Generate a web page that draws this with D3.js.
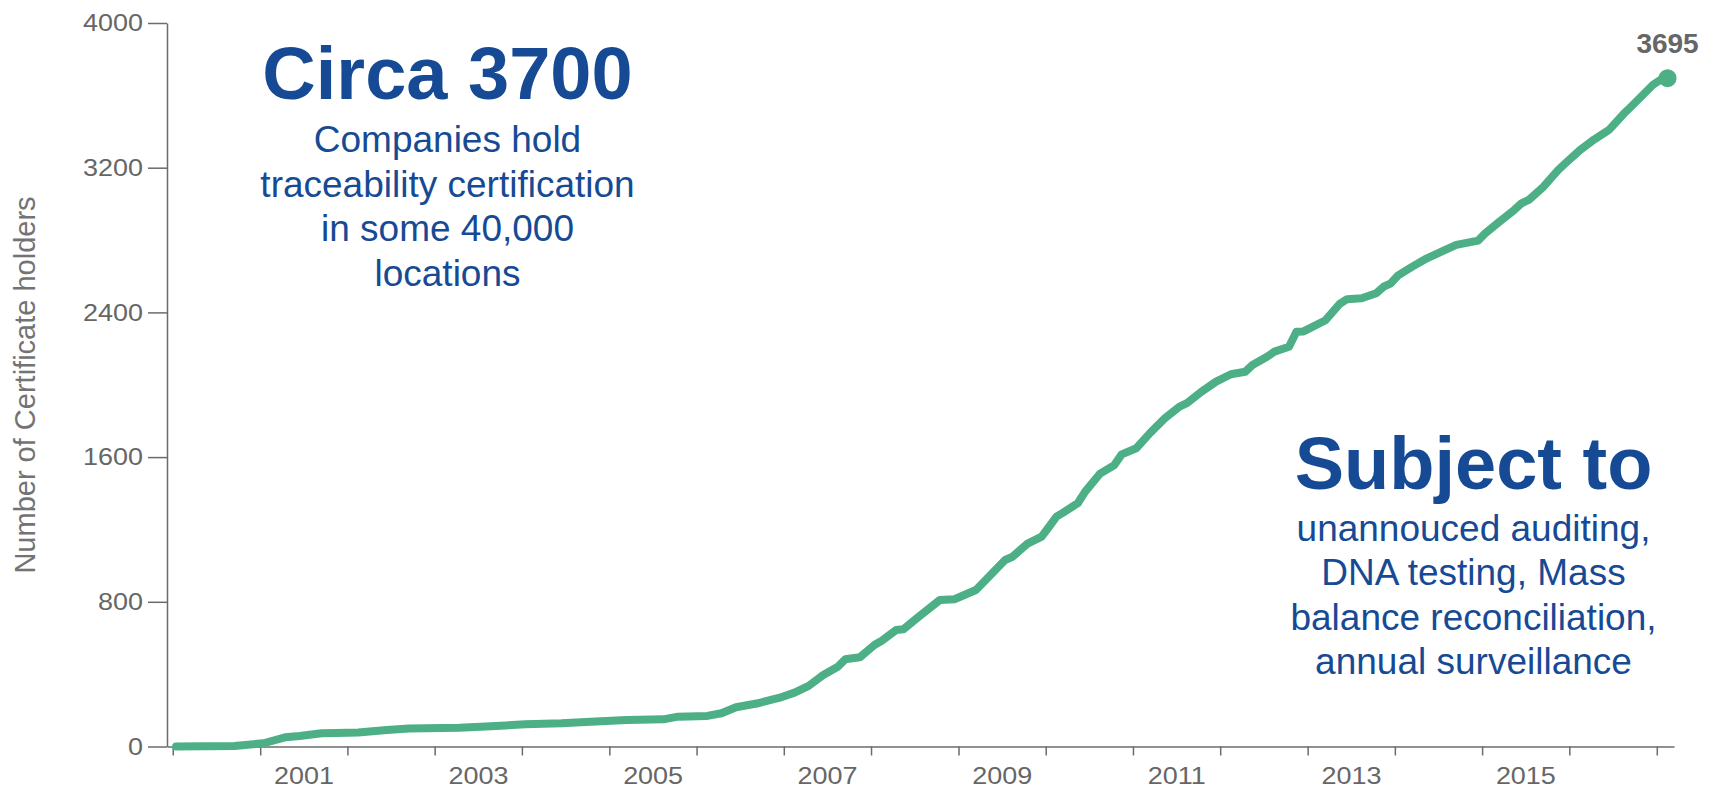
<!DOCTYPE html>
<html>
<head>
<meta charset="utf-8">
<script src="https://d3js.org/d3.v7.min.js"></script>
<style>
    body { margin: 0; background: #fff; }
    svg { display: block; font-family: "Liberation Sans", Arial, sans-serif; }
    .axis path, .axis line { stroke: #6b6b6b; stroke-width: 1.5; }
    .axis text { fill: #666; font-size: 24.5px; font-family: "Liberation Sans", Arial, sans-serif; }
    .note { fill: #174a94; text-anchor: middle; }
</style>
</head>
<body>
<div id="chart"></div>
<script>
// --------- DATA (month of each reading) ---------

const months = [
    "2000-01", "2000-09", "2001-01", "2001-04", "2001-06", "2001-09", "2001-11",
    "2002-02", "2002-06", "2002-09", "2003-04", "2003-09", "2004-01", "2004-06",
    "2004-10", "2005-03", "2005-08", "2005-10", "2006-02", "2006-04", "2006-06",
    "2006-09", "2006-12", "2007-02", "2007-04", "2007-06", "2007-08", "2007-09",
    "2007-11", "2008-01", "2008-02", "2008-04", "2008-05", "2008-07", "2008-10",
    "2008-12", "2009-03", "2009-05", "2009-07", "2009-08", "2009-10", "2009-12",
    "2010-01", "2010-02", "2010-03", "2010-05", "2010-06", "2010-08", "2010-10",
    "2010-11", "2011-01", "2011-03", "2011-05", "2011-07", "2011-08", "2011-10",
    "2011-12", "2012-02", "2012-04", "2012-05", "2012-07", "2012-08", "2012-10",
    "2012-11", "2012-12", "2013-03", "2013-05", "2013-06", "2013-08", "2013-10",
    "2013-11", "2013-12", "2014-01", "2014-03", "2014-05", "2014-07", "2014-09",
    "2014-12", "2015-01", "2015-03", "2015-05", "2015-06", "2015-07", "2015-09",
    "2015-11", "2015-12", "2016-02", "2016-04", "2016-06", "2016-08", "2016-09",
    "2016-12", "2017-01", "2017-02"
];

const holders = [
    0, 3, 18, 51, 58, 73, 75,
    78, 91, 100, 104, 113, 123, 128,
    137, 147, 150, 165, 169, 184, 217,
    239, 270, 298, 335, 395, 441, 482,
    493, 561, 585, 644, 648, 714, 810,
    814, 865, 948, 1031, 1049, 1120, 1160,
    1215, 1271, 1293, 1345, 1409, 1507, 1556,
    1615, 1649, 1735, 1815, 1879, 1898, 1962,
    2017, 2058, 2072, 2109, 2155, 2183, 2210,
    2293, 2295, 2355, 2447, 2473, 2478, 2506,
    2542, 2561, 2605, 2653, 2699, 2736, 2773,
    2797, 2838, 2902, 2966, 3003, 3022, 3095,
    3187, 3224, 3298, 3357, 3409, 3497, 3537,
    3657, 3685, 3695
];

const yTicks = [0, 800, 1600, 2400, 3200, 4000];
const yearLabels = ["2001", "2003", "2005", "2007", "2009", "2011", "2013", "2015"];
const yTitle = "Number of Certificate holders";

const leftHead = "Circa 3700";
const leftLines = ["Companies hold", "traceability certification", "in some 40,000", "locations"];
const rightHead = "Subject to";
const rightLines = ["unannouced auditing,", "DNA testing, Mass", "balance reconciliation,", "annual surveillance"];

// --------- CHART ---------

let margin = {top: 23, right: 39, bottom: 43.5, left: 167},
    width = 1713 - margin.left - margin.right,
    height = 790 - margin.top - margin.bottom;

let parseMonth = d3.timeParse("%Y-%m");
let data = months.map((m, i) => ({date: d3.timeDay.offset(parseMonth(m), 14), value: holders[i]}));

let svg = d3.select("#chart")
    .append("svg")
    .attr("width", width + margin.left + margin.right)
    .attr("height", height + margin.top + margin.bottom);

let graph = svg.append("g")
    .attr("transform", "translate(" + margin.left + "," + margin.top + ")");

let xScale = d3.scaleTime()
    .domain([new Date(1999, 11, 8), new Date(2017, 2, 14)])
    .range([0, width]);

let yScale = d3.scaleLinear()
    .domain([0, 4000])
    .range([height, 0]);

const stretch = 1.1;

// x axis: a tick at each new year, labels in the middle of odd years
graph.append("g")
    .attr("class", "axis")
    .attr("transform", "translate(0," + height + ")")
    .call(d3.axisBottom(xScale).ticks(d3.timeYear.every(1)).tickFormat("").tickSize(9).tickSizeOuter(0));

graph.append("g")
    .attr("class", "axis")
    .attr("transform", "translate(0," + height + ")")
    .call(d3.axisBottom(xScale)
        .tickValues(yearLabels.map(y => new Date(+y, 6, 1)))
        .tickFormat(d3.timeFormat("%Y"))
        .tickSize(0)
        .tickPadding(20))
    .call(g => g.select(".domain").remove())
    .selectAll("text")
    .attr("transform", "scale(" + stretch + ",1)");

graph.append("g")
    .attr("class", "axis")
    .call(d3.axisLeft(yScale).tickValues(yTicks).tickFormat(d => d).tickSize(19).tickSizeOuter(0).tickPadding(5))
    .selectAll("text")
    .attr("x", -24 / stretch)
    .attr("transform", "scale(" + stretch + ",1)");

svg.append("text")
    .attr("transform", "rotate(-90)")
    .attr("x", -385)
    .attr("y", 35)
    .attr("text-anchor", "middle")
    .attr("fill", "#737373")
    .style("font-size", "29px")
    .text(yTitle);

// line and end point
let line = d3.line()
    .x(d => xScale(d.date))
    .y(d => yScale(d.value));

graph.append("path")
    .attr("fill", "none")
    .attr("stroke", "#4caf86")
    .attr("stroke-width", 8)
    .attr("stroke-linejoin", "round")
    .attr("stroke-linecap", "round")
    .attr("d", line(data));

let last = data[data.length - 1];
graph.append("circle")
    .attr("cx", xScale(last.date))
    .attr("cy", yScale(last.value))
    .attr("r", 9)
    .attr("fill", "#4caf86");

graph.append("text")
    .attr("x", xScale(last.date))
    .attr("y", yScale(last.value) - 25)
    .attr("text-anchor", "middle")
    .attr("fill", "#666")
    .style("font-size", "28px")
    .style("font-weight", "bold")
    .text(last.value);

// annotations
function note(cx, headY, head, lines, lineY) {
    svg.append("text")
        .attr("class", "note")
        .attr("x", cx)
        .attr("y", headY)
        .style("font-size", "74px")
        .style("font-weight", "bold")
        .text(head);
    svg.append("g").selectAll("text")
        .data(lines)
        .join("text")
        .attr("class", "note")
        .attr("x", cx)
        .attr("y", (d, i) => lineY + i * 44.6)
        .style("font-size", "37px")
        .text(d => d);
}

note(447.5, 99.3, leftHead, leftLines, 152);
note(1473.5, 489.3, rightHead, rightLines, 540.5);
</script>
</body>
</html>
